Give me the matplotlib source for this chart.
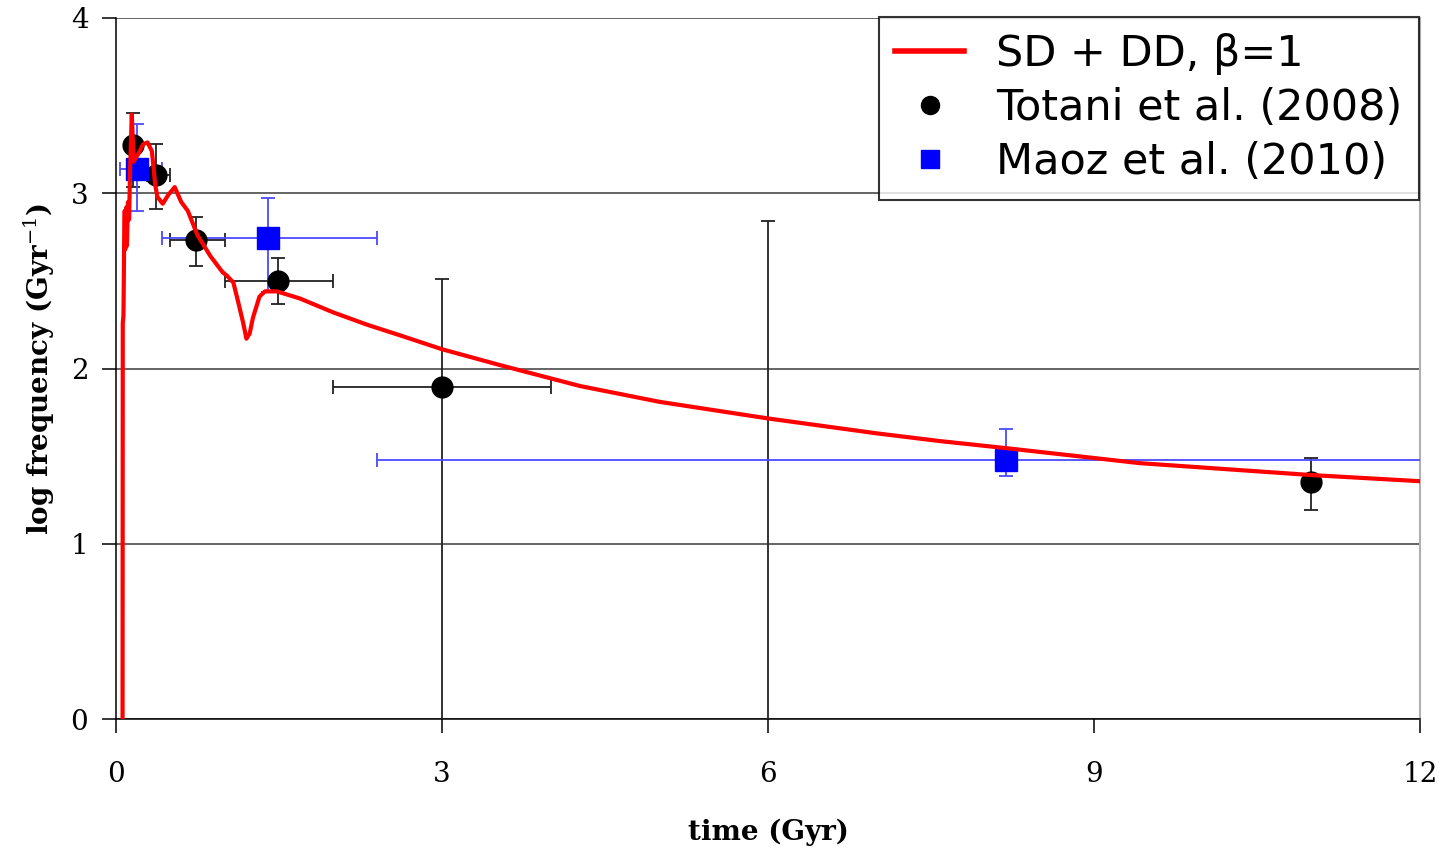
import matplotlib.pyplot as plt
from matplotlib.lines import Line2D

# SN Ia rate model: SD + DD channels, beta = 1
model_t = [0.060, 0.062, 0.068, 0.070, 0.075, 0.080, 0.085, 0.095, 0.100, 0.110,
           0.120, 0.130, 0.145, 0.155, 0.160, 0.200, 0.250, 0.290, 0.330, 0.360,
           0.380, 0.430, 0.480, 0.540, 0.600, 0.660, 0.750, 0.870, 0.980, 1.020,
           1.080, 1.120, 1.170, 1.200, 1.230, 1.260, 1.320, 1.370, 1.480, 1.690,
           2.000, 2.310, 2.610, 3.000, 3.530, 4.270, 5.000, 6.000, 7.000, 7.580,
           8.200, 9.420, 11.00, 12.00]
model_logf = [0.00, 2.26, 2.30, 2.40, 2.75, 2.90, 2.68, 2.92, 2.70, 2.95,
              2.85, 3.15, 3.45, 3.30, 3.18, 3.22, 3.28, 3.29, 3.24, 3.05,
              2.98, 2.94, 2.99, 3.035, 2.95, 2.90, 2.76, 2.64, 2.55, 2.53,
              2.49, 2.39, 2.26, 2.17, 2.20, 2.29, 2.41, 2.44, 2.44, 2.40,
              2.32, 2.25, 2.19, 2.11, 2.02, 1.90, 1.81, 1.715, 1.63, 1.586,
              1.545, 1.46, 1.392, 1.357]

# Totani et al. (2008)
totani_t = [0.156, 0.368, 0.736, 1.49, 3.0, 6.0, 11.0]
totani_logf = [3.275, 3.104, 2.733, 2.50, 1.894, -0.5, 1.352]
totani_t_lo = [0.156, 0.285, 0.50, 1.0, 2.0, 4.0, 11.0]
totani_t_hi = [0.156, 0.497, 1.0, 2.0, 4.0, 8.0, 11.0]
totani_f_lo = [3.035, 2.91, 2.585, 2.37, -1.0, -1.0, 1.19]
totani_f_hi = [3.46, 3.28, 2.865, 2.63, 2.51, 2.84, 1.49]

# Maoz et al. (2010)
maoz_t = [0.193, 1.40, 8.19]
maoz_logf = [3.138, 2.745, 1.478]
maoz_t_lo = [0.035, 0.42, 2.4]
maoz_t_hi = [0.42, 2.4, 14.0]
maoz_f_lo = [2.90, 2.437, 1.387]
maoz_f_hi = [3.395, 2.973, 1.655]

plt.rcParams['mathtext.fontset'] = 'dejavuserif'

fig = plt.figure(figsize=(14.45, 8.49), dpi=100)
ax = fig.add_axes([0.0803, 0.1531, 0.9024, 0.8257])

def errs(vals, lo, hi):
    return [[v - l for v, l in zip(vals, lo)], [h - v for v, h in zip(vals, hi)]]

ax.errorbar(totani_t, totani_logf,
            xerr=errs(totani_t, totani_t_lo, totani_t_hi),
            yerr=errs(totani_logf, totani_f_lo, totani_f_hi),
            fmt='o', color='black', ms=15, ecolor='#222222', elinewidth=1.3,
            capsize=5, capthick=1.3, zorder=3)
ax.errorbar(maoz_t, maoz_logf,
            xerr=errs(maoz_t, maoz_t_lo, maoz_t_hi),
            yerr=errs(maoz_logf, maoz_f_lo, maoz_f_hi),
            fmt='s', color='#0000ff', ms=15.5, ecolor='#4a4aff', elinewidth=1.3,
            capsize=5, capthick=1.3, zorder=3)
ax.plot(model_t, model_logf, color='#ff0000', lw=3, zorder=4)

ax.set_xlim(0, 12)
ax.set_ylim(0, 4)
ax.set_xticks([0, 3, 6, 9, 12])
ax.set_yticks([0, 1, 2, 3, 4])
ax.yaxis.grid(True, color='#3a3a3a', lw=1.1)
ax.set_axisbelow(True)
ax.spines['top'].set_visible(False)
ax.spines['right'].set_color('#b0b0b0')
ax.spines['right'].set_linewidth(1.5)
ax.spines['left'].set_linewidth(1.1)
ax.spines['bottom'].set_linewidth(1.1)
ax.tick_params(direction='out', length=10, width=1.1, labelsize=20)
ax.tick_params(axis='x', pad=20)
ax.tick_params(axis='y', pad=10)
for lab in ax.get_xticklabels() + ax.get_yticklabels():
    lab.set_fontfamily('DejaVu Serif')

ax.set_xlabel('time (Gyr)', fontsize=20, fontfamily='DejaVu Serif',
              fontweight='bold', labelpad=22)
ax.set_ylabel(r'log frequency (Gyr$^{-1}$)', fontsize=20, fontfamily='DejaVu Serif',
              fontweight='bold', labelpad=10)

handles = [Line2D([], [], color='#ff0000', lw=4),
           Line2D([], [], ls='none', marker='o', color='black', ms=13),
           Line2D([], [], ls='none', marker='s', color='#0000ff', ms=13)]
labels = ['SD + DD, \u03b2=1', 'Totani et al. (2008)', 'Maoz et al. (2010)']
leg = fig.legend(handles, labels, loc='upper right', bbox_to_anchor=(0.982, 0.980),
                 borderaxespad=0, fontsize=31, frameon=True, fancybox=False,
                 handlelength=1.6, handletextpad=0.75, labelspacing=0.28,
                 borderpad=0.38)
leg.get_frame().set_edgecolor('black')
leg.get_frame().set_linewidth(1.5)

fig.savefig('out.png', dpi=100)
